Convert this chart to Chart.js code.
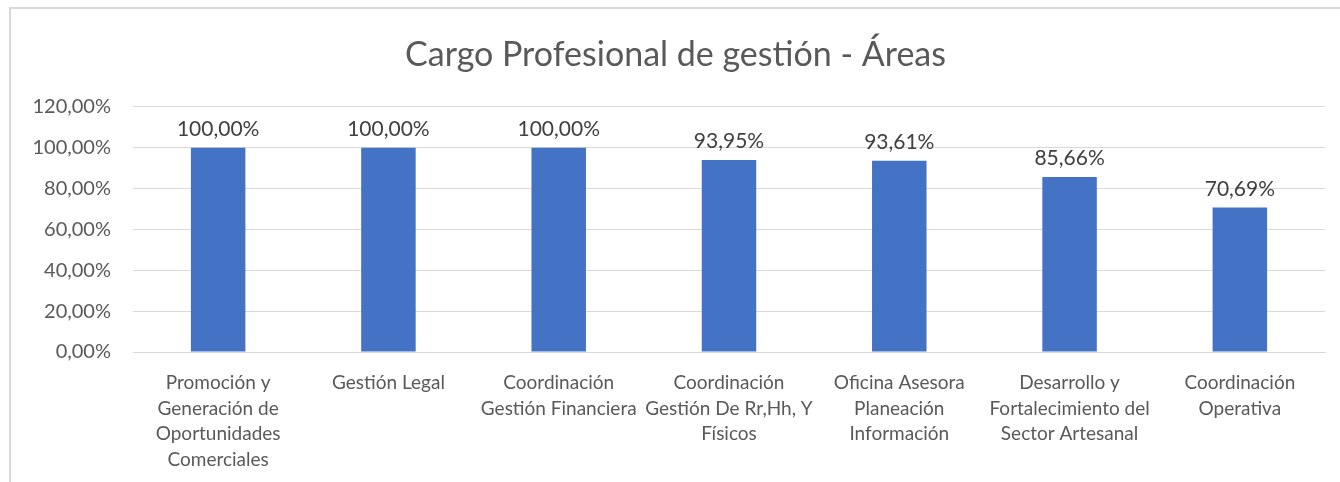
<!DOCTYPE html>
<html lang="es">
<head>
<meta charset="utf-8">
<title>Cargo Profesional de gestión - Áreas</title>
<script src="https://cdn.jsdelivr.net/npm/chart.js@4.4.1/dist/chart.umd.min.js"></script>
<style>
    html, body { margin: 0; padding: 0; background: #fff; overflow: hidden; }
    #marco {
        position: absolute; left: 9px; top: 7px; width: 1340px; height: 480px;
        border-left: 2px solid #d9d9d9; border-top: 2px solid #d9d9d9;
    }
    #grafico { position: absolute; left: 0; top: 0; }
</style>
</head>
<body>
<div id="marco"></div>
<canvas id="grafico" width="1340" height="482"></canvas>
<script>
// Dados
const categorias = [
    ['Promoción y', 'Generación de', 'Oportunidades', 'Comerciales'],
    ['Gestión Legal'],
    ['Coordinación', 'Gestión Financiera'],
    ['Coordinación', 'Gestión De Rr,Hh, Y', 'Físicos'],
    ['Oficina Asesora', 'Planeación', 'Información'],
    ['Desarrollo y', 'Fortalecimiento del', 'Sector Artesanal'],
    ['Coordinación', 'Operativa']
];
const porcentajes = [1.0, 1.0, 1.0, 0.9395, 0.9361, 0.8566, 0.7069];
const ticksEje = [0, 0.2, 0.4, 0.6, 0.8, 1.0, 1.2];

const fuente = 'Lato, "Open Sans", sans-serif';
const fmtPct = (v) => (v * 100).toFixed(2).replace('.', ',') + '%';

// Rótulos em cima das barras
const rotulos = {
    id: 'rotulos',
    afterDatasetsDraw(chart) {
        const ctx = chart.ctx;
        const meta = chart.getDatasetMeta(0);
        ctx.save();
        ctx.font = '21px ' + fuente;
        ctx.fillStyle = '#404040';
        ctx.textAlign = 'center';
        ctx.textBaseline = 'bottom';
        meta.data.forEach((bar, i) => {
            ctx.fillText(fmtPct(porcentajes[i]), bar.x, bar.y - 8);
        });
        ctx.restore();
    }
};

new Chart(document.getElementById('grafico'), {
    type: 'bar',
    data: {
        labels: categorias,
        datasets: [{
            data: porcentajes,
            backgroundColor: '#4472c4',
            barPercentage: 0.32,
            categoryPercentage: 1
        }]
    },
    options: {
        responsive: false,
        animation: false,
        layout: { padding: { top: 35, right: 15, bottom: 8, left: 26 } },
        plugins: {
            legend: { display: false },
            tooltip: { enabled: false },
            title: {
                display: true,
                text: 'Cargo Profesional de gestión - Áreas',
                color: '#595959',
                font: { family: fuente, size: 34, weight: 'normal' },
                padding: { top: 0, bottom: 31 }
            }
        },
        scales: {
            y: {
                min: 0,
                max: 1.2,
                afterFit: (s) => { s.width = 107; },
                afterBuildTicks: (s) => { s.ticks = ticksEje.map(v => ({ value: v })); },
                border: { display: false },
                grid: { color: '#d9d9d9', drawTicks: false },
                ticks: {
                    padding: 22,
                    color: '#595959',
                    font: { family: fuente, size: 20 },
                    callback: (v) => fmtPct(v)
                }
            },
            x: {
                afterFit: (s) => { s.height = 122; },
                border: { color: '#d9d9d9' },
                grid: { display: false },
                ticks: {
                    padding: 10,
                    maxRotation: 0,
                    autoSkip: false,
                    color: '#595959',
                    font: { family: fuente, size: 19, lineHeight: 1.35 }
                }
            }
        }
    },
    plugins: [rotulos]
});
</script>
</body>
</html>
